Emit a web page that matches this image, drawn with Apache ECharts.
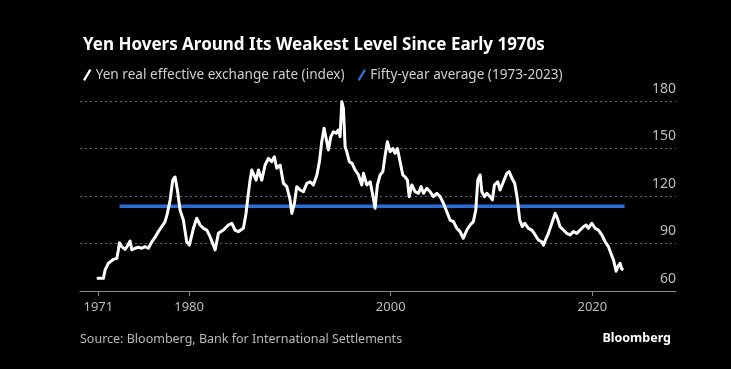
<!DOCTYPE html>
<html>
<head>
<meta charset="utf-8">
<script src="https://cdn.jsdelivr.net/npm/echarts@6/dist/echarts.min.js"></script>
<style>
html,body{margin:0;padding:0;background:#000;}
#chart{width:731px;height:369px;}
</style>
</head>
<body>
<div id="chart"></div>
<script>
// Decimal years (position along time) of the sampled points
const years = [
  1970.84,1971.50,1971.67,1971.99,1972.49,1972.83,1972.99,1973.09,1973.32,1973.48,
  1973.65,1973.88,1974.15,1974.32,1974.64,1974.97,1975.31,1975.63,1975.96,1976.30,
  1976.63,1976.95,1977.29,1977.62,1977.85,1978.12,1978.38,1978.61,1978.84,1979.11,
  1979.43,1979.77,1980.03,1980.43,1980.76,1981.09,1981.42,1981.76,1982.08,1982.41,
  1982.58,1982.91,1983.40,1983.90,1984.24,1984.56,1984.89,1985.39,1985.65,1985.88,
  1986.05,1986.22,1986.38,1986.65,1986.88,1987.21,1987.54,1987.87,1988.20,1988.46,
  1988.70,1989.03,1989.36,1989.69,1990.02,1990.19,1990.45,1990.68,1991.01,1991.34,
  1991.68,1992.00,1992.33,1992.68,1992.93,1993.16,1993.39,1993.59,1993.82,1994.06,
  1994.32,1994.58,1994.81,1994.98,1995.15,1995.31,1995.48,1995.64,1995.90,1996.17,
  1996.47,1996.80,1997.13,1997.30,1997.63,1997.96,1998.22,1998.45,1998.68,1998.95,
  1999.22,1999.44,1999.67,1999.94,2000.21,2000.44,2000.67,2000.93,2001.20,2001.43,
  2001.66,2001.83,2002.10,2002.42,2002.75,2003.02,2003.25,2003.58,2003.91,2004.24,
  2004.57,2004.90,2005.23,2005.57,2005.89,2006.22,2006.56,2006.88,2007.21,2007.55,
  2007.88,2008.20,2008.44,2008.64,2008.87,2009.04,2009.30,2009.53,2009.86,2010.09,
  2010.29,2010.62,2010.85,2011.18,2011.52,2011.75,2012.04,2012.30,2012.53,2012.80,
  2013.06,2013.29,2013.66,2014.00,2014.33,2014.65,2014.99,2015.15,2015.42,2015.64,
  2015.98,2016.31,2016.54,2016.80,2017.13,2017.47,2017.80,2018.12,2018.46,2018.79,
  2019.12,2019.38,2019.61,2019.95,2020.28,2020.61,2020.94,2021.27,2021.60,2021.84,
  2022.10,2022.36,2022.59,2022.76,2022.91,2023.08
];
// Yen real effective exchange rate (index)
const reer = [
  68,68,73.3,77.5,80,80.6,86,90.5,88,89,
  86.3,88.4,91.6,86,87,87.6,87,88,87,91,
  94,97.5,100.6,103.8,109,117.5,130,132,123.8,111,
  104.8,91,89,99.6,106,101.7,99.6,98.5,94.3,89,
  86,96.4,98.5,101.7,102.8,98.5,97.5,99.6,109,121.7,
  130,136.4,137.5,130,136.4,130,139.6,143.8,141.7,144.8,
  137.5,139.6,128,125.9,117.5,109,115.4,125.9,123.8,122.7,
  128,129,127,133.3,141.7,154.3,162.8,156.5,149,157.5,
  160.6,159.6,161.7,157.5,179.6,175.4,151.1,148,141.7,140.6,
  136.4,133.3,127,134.3,127,129,120.6,112.2,127,133.3,
  135.4,145.3,154.3,148,150,147,150,141.7,133.3,132,
  130,119.6,127,122.7,121.7,125.9,121.7,124.9,122.7,119.6,
  121.7,119.6,115.4,110,104.8,103.8,99.6,97.5,93.3,98.5,
  101.7,103.8,111.2,130,133.3,122.7,119.6,121.7,119.6,117.5,
  127,129,123.8,129,134.3,135.4,131,128,119.6,104.8,
  100.6,102.8,99.6,98.5,95.4,92.2,91.1,89,93.3,96.4,
  102.8,109,105.9,100.6,98.5,96.4,95.4,97.5,96.4,98.5,
  100.6,101.7,99.6,102.8,99.6,98.5,95.4,91.1,88,83.8,
  79.6,72.5,76,77.5,74,73.3
];
// Fifty-year average (1973-2023)
const avgYears = [1973.1, 2023.2];
const avgValue = 113.5;
// Axis ticks
const xTicks = [1971, 1980, 2000, 2020];
const yTicks = [60, 90, 120, 150, 180];

const seriesNames = ['Yen real effective exchange rate (index)', 'Fifty-year average (1973-2023)'];
const FONT = 'Noto Sans';
const slash = 'path://M0,11 L6.5,0 L8.5,1.2 L2,12.2 Z';

const chart = echarts.init(document.getElementById('chart'), null, {renderer: 'canvas'});
chart.setOption({
  backgroundColor: '#000',
  animation: false,
  textStyle: {fontFamily: FONT},
  title: {
    text: 'Yen Hovers Around Its Weakest Level Since Early 1970s',
    left: 78, top: 32,
    textStyle: {color: '#fff', fontSize: 17, fontWeight: 'bold', fontFamily: FONT}
  },
  legend: {
    left: 78, top: 63,
    itemWidth: 9, itemHeight: 12, itemGap: 13,
    data: [
      {name: seriesNames[0], icon: slash, itemStyle: {color: '#fff'}},
      {name: seriesNames[1], icon: slash, itemStyle: {color: '#2b6fd6'}}
    ],
    textStyle: {color: '#cfcfcf', fontSize: 13.6, fontFamily: FONT, padding: [0, 0, 0, -1]}
  },
  grid: {left: 80, right: 55, top: 101, bottom: 78},
  xAxis: {
    type: 'value',
    min: 1969.18, max: 2028.3,
    splitLine: {show: false},
    axisLine: {lineStyle: {color: '#8a8a8a', width: 1}},
    axisTick: {show: true, customValues: xTicks, length: 5, lineStyle: {color: '#8a8a8a'}},
    axisLabel: {customValues: xTicks, color: '#bdbdbd', fontSize: 13, margin: 10, fontFamily: FONT,
      formatter: v => String(v)}
  },
  yAxis: {
    type: 'value',
    position: 'right',
    min: 60, max: 180, interval: 30,
    axisLine: {show: false},
    axisTick: {show: false},
    splitLine: {show: true, lineStyle: {color: '#6a6a6a', type: [2, 3], width: 1}},
    axisLabel: {inside: true, margin: 0, verticalAlign: 'bottom', padding: [0, 0, 5, 0],
      color: '#bdbdbd', fontSize: 14, fontFamily: FONT,
      formatter: v => yTicks.includes(v) ? String(v) : ''}
  },
  series: [
    {
      name: seriesNames[1], type: 'line', showSymbol: false, symbol: 'none',
      data: avgYears.map(y => [y, avgValue]),
      lineStyle: {color: '#2b6fd6', width: 3.5}, itemStyle: {color: '#2b6fd6'}, z: 2
    },
    {
      name: seriesNames[0], type: 'line', showSymbol: false, symbol: 'none',
      data: years.map((y, i) => [y, reer[i]]),
      lineStyle: {color: '#fff', width: 3, join: 'round'}, itemStyle: {color: '#fff'}, z: 3
    }
  ],
  graphic: [
    {type: 'text', left: 80, top: 333,
      style: {text: 'Source: Bloomberg, Bank for International Settlements', fill: '#b8b8b8', fontSize: 12.5, fontFamily: FONT}},
    {type: 'text', right: 60, top: 332,
      style: {text: 'Bloomberg', fill: '#fff', fontSize: 12.5, fontWeight: 'bold', fontFamily: FONT}}
  ]
});
</script>
</body>
</html>
